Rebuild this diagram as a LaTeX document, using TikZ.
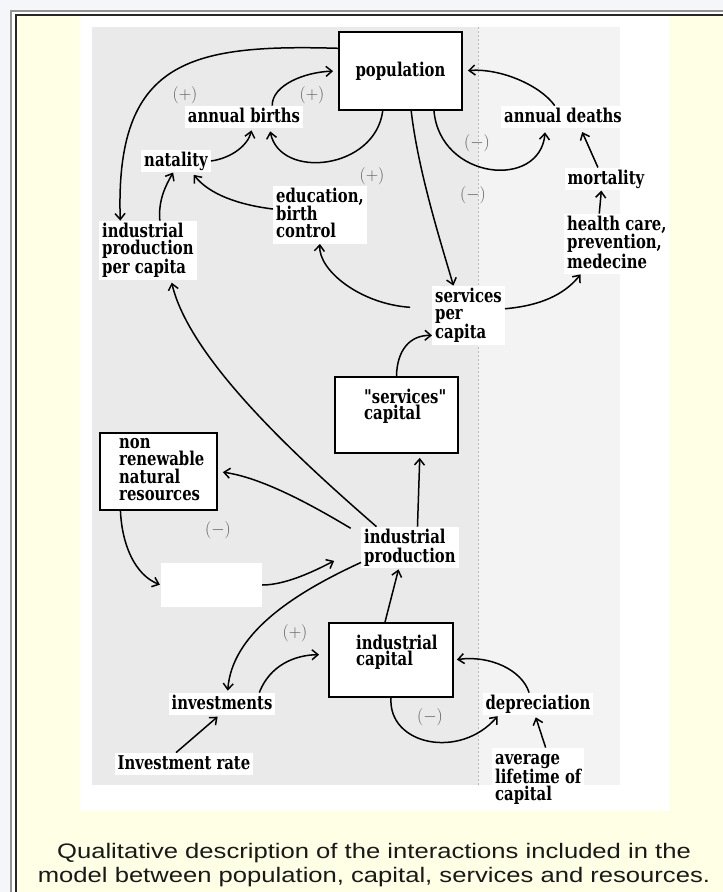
\documentclass[tikz,border=0pt]{standalone}
\usepackage{fontspec}
\usepackage{tikz}
\usetikzlibrary{arrows.meta}
\newfontfamily\scanfont{DejaVu Serif}[FakeStretch=0.78]
\newfontfamily\capfont{Liberation Sans}[FakeStretch=1.22]
\definecolor{cream}{HTML}{FFFFE6}
\definecolor{pagebg}{HTML}{F4F6FA}
\definecolor{scandark}{HTML}{EAEAEA}
\definecolor{scanlight}{HTML}{F3F3F3}

\begin{document}
\begin{tikzpicture}[x=1pt, y=-1pt,
            tag/.style={fill=white, align=left, inner xsep=3pt, inner ysep=2pt,
              execute at begin node=\vphantom{lp},
              font=\scanfont\bfseries\fontsize{19}{17}\selectfont},
            boxtag/.style={tag, fill=none, font=\scanfont\bfseries\fontsize{19}{16}\selectfont},
            stock/.style={draw, line width=1.8pt, fill=white, inner sep=0pt},
            sign/.style={text=black!65, inner sep=1pt, font=\fontsize{17}{17}\selectfont},
            link/.style={line width=1.5pt, -{Straight Barb[length=6pt,width=10pt]}},
            ]
            \useasboundingbox (0,0) rectangle (723,892);

            \fill[white] (0,0) rectangle (723,892);
            \fill[pagebg] (0,0) rectangle (723,10);
            \fill[pagebg] (0,0) rectangle (10,892);
            \draw[gray!85, line width=2pt] (11,892) -- (11,11) -- (723,11);
            \fill[cream] (16,16) rectangle (723,892);
            \draw[black!85, line width=1.6pt] (15.8,892) -- (15.8,15) -- (723,15);
            \fill[white] (80,15.8) rectangle (670,811);
            \fill[scandark] (92,27) rectangle (478,785);
            \fill[scanlight] (478,27) rectangle (620,785);
            \draw[gray!55, line width=0.6pt, dash pattern=on 2pt off 2pt] (478,27) -- (478,785);

            \node[stock, minimum width=123pt, minimum height=78pt,
              font=\scanfont\bfseries\fontsize{19}{17}\selectfont] (pop) at (400.5,71) {population};
            \node[stock, minimum width=123pt, minimum height=76pt] (scap) at (396.5,415) {};
            \node[boxtag, anchor=north west] (scaptext) at (361,386.6) {"services"\\capital};
            \node[stock, minimum width=117pt, minimum height=77pt] (nonr) at (158.5,471.5) {};
            \node[boxtag, anchor=north west, font=\scanfont\bfseries\fontsize{19}{17.3}\selectfont] (nonrtext) at (116,432) {\vphantom{l}non\\renewable\\natural\\resources};
            \node[stock, minimum width=124pt, minimum height=74pt] (icap) at (391,660) {};
            \node[boxtag, anchor=north west] (icaptext) at (353,632.6) {industrial\\capital};

            \node[tag] (births) at (244,117) {annual births};
            \node[tag] (deaths) at (563,117) {annual deaths};
            \node[tag] (natality) at (176,161) {natality};
            \node[tag] (mortality) at (606,179) {mortality};
            \node[tag, anchor=north west] (educ) at (273,185.6) {education,\\birth\\control};
            \node[tag, anchor=north west] (health) at (564,213.6) {health care,\\prevention,\\medecine};
            \node[tag, anchor=north west] (ipc) at (99,220.6) {industrial\\production\\per capita};
            \node[tag, anchor=north west] (spc) at (432,285.6) {\vphantom{l}services\\per\\capita};
            \node[tag, anchor=north west, font=\scanfont\bfseries\fontsize{19}{19}\selectfont] (iprod) at (361,526.6) {industrial\\production};
            \node[fill=white, minimum width=101pt, minimum height=44pt, inner sep=0pt] (extract) at (211.5,585) {};
            \node[tag] (invest) at (222,704) {investments};
            \node[tag] (deprec) at (538,704) {depreciation};
            \node[tag] (rate) at (184,764) {Investment rate};
            \node[tag, anchor=north west] (life) at (492,747.6) {\vphantom{l}average\\lifetime of\\capital};

            \node[sign] (s1) at (185,95) {$(+)$};
            \node[sign] (s2) at (312,95) {$(+)$};
            \node[sign] (s3) at (372,176) {$(+)$};
            \node[sign] (s4) at (477,143) {$(-)$};
            \node[sign] (s5) at (473,195) {$(-)$};
            \node[sign] (s6) at (218,530) {$(-)$};
            \node[sign] (s7) at (295,633) {$(+)$};
            \node[sign] (s8) at (430,717) {$(-)$};

            \draw[link] (pop.160) .. controls (190,44) and (115,60) .. (ipc.133);
            \draw[link, shorten >=5pt] (births.22) .. controls (272,85) and (305,72) .. (pop.west);
            \draw[link, shorten >=3pt] (pop.246) .. controls (375,170) and (280,180) .. (births.-24);
            \draw[link, shorten >=2pt] (natality.east) .. controls (232,158) and (248,145) .. (births.-55);
            \draw[link, shorten >=4pt] (pop.-50) .. controls (440,180) and (540,190) .. (deaths.213);
            \draw[link, shorten >=5pt] (deaths.126) .. controls (540,85) and (500,68) .. (pop.east);
            \draw[link, shorten >=4pt] (mortality.125) -- (deaths.-33);
            \draw[link] (health.120) -- (mortality.-112);
            \draw[link, shorten >=3pt] (educ.173) .. controls (240,205) and (210,195) .. (natality.-36);
            \draw[link] (ipc.68) .. controls (158,200) and (166,185) .. (natality.-104);
            \draw[link] (pop.-75) .. controls (418,170) and (440,240) .. (spc.117);
            \draw[link, shorten <=22pt] (spc.170) .. controls (360,304) and (318,270) .. (educ.south);
            \draw[link] (spc.10) .. controls (548,305) and (568,290) .. (health.220);
            \draw[link] (scap.north) .. controls (397,350) and (410,335) .. (spc.209);
            \draw[link, shorten >=3pt] (iprod.148) .. controls (300,460) and (190,360) .. (ipc.-52);
            \draw[link, shorten <=12pt, shorten >=5pt] (iprod.165) .. controls (320,510) and (265,478) .. (nonr.east);
            \draw[link, shorten >=4pt] (iprod.70) -- (scap.-59);
            \draw[link, shorten >=1pt] (nonr.226) .. controls (122,545) and (135,575) .. (extract.west);
            \draw[link, shorten >=30pt] (extract.east) .. controls (288,585) and (320,568) .. (iprod.west);
            \draw[link, shorten >=1pt] (icap.99) -- (iprod.-118);
            \draw[link, shorten >=2pt] (iprod.197) .. controls (290,595) and (232,635) .. (invest.64);
            \draw[link, shorten >=9pt] (invest.17) .. controls (270,665) and (295,655) .. (icap.175);
            \draw[link, shorten >=1pt] (icap.south) .. controls (388,745) and (460,760) .. (deprec.196);
            \draw[link, shorten >=3pt] (deprec.128) .. controls (522,670) and (490,655) .. (icap.east);
            \draw[link, shorten >=2pt] (life.76) -- (deprec.-104);
            \draw[link, shorten >=2pt] (rate.125) -- (invest.-104);

            \node[align=center, text=black!90, inner sep=0pt,
              font=\capfont\fontsize{21}{24}\selectfont] (caption) at (374,865)
              {Qualitative description of the interactions included in the\\
               model between population, capital, services and resources.};
        \end{tikzpicture}
\end{document}
